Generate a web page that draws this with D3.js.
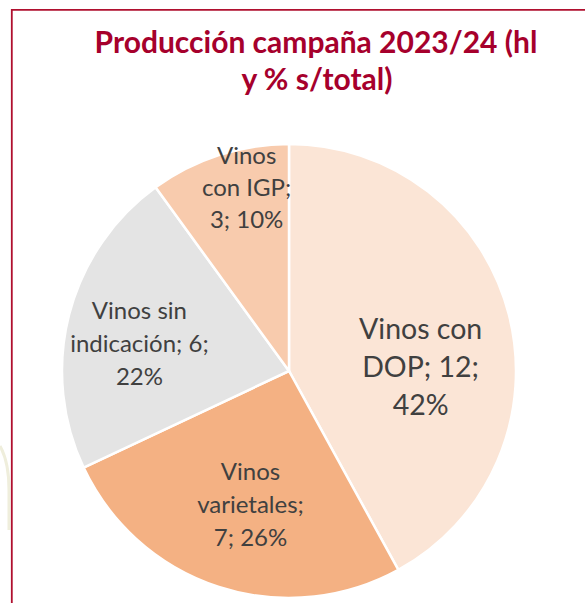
<!DOCTYPE html>
<html>
<head>
<meta charset="utf-8">
<script src="https://cdn.jsdelivr.net/npm/d3@7"></script>
<style>
  body { margin: 0; background: #fff; }
  svg { display: block; }
</style>
</head>
<body>
<script>
// data (hl in millions, share of total)
var categories = ["Vinos con DOP", "Vinos varietales", "Vinos sin indicación", "Vinos con IGP"];
var volumes = [12, 7, 6, 3];
var shares = [42, 26, 22, 10];
var colors = ["#FBE5D6", "#F4B183", "#E4E4E4", "#F8CBAD"];

// how Excel broke the labels into lines
var labelLines = [
  ["Vinos con", "DOP; 12;", "42%"],
  ["Vinos", "varietales;", "7; 26%"],
  ["Vinos sin", "indicación; 6;", "22%"],
  ["Vinos", "con IGP;", "3; 10%"]
];

var w = 585, h = 603;
var cx = 289, cy = 371, radius = 227;

// label placement: fraction of radius and angle shift (deg) from slice middle
var labelRadius = [0.58, 0.615, 0.67, 0.83];
var labelShift = [13, -2, -4, 5];
var labelSize = [28.5, 24, 24, 24];
var lineGap = [38, 33, 33, 32];

var svg = d3.select("body").append("svg")
  .attr("width", w)
  .attr("height", h);

// faint slide decoration left of the frame
svg.append("path")
  .attr("d", "M0,446Q9,462 9,490V530")
  .attr("fill", "none")
  .attr("stroke", "#EFEEDC")
  .attr("stroke-width", 3);

// frame
svg.append("path")
  .attr("d", "M11.8," + h + "V9.8H" + w)
  .attr("fill", "none")
  .attr("stroke", "#B0102F")
  .attr("stroke-width", 1.8);

// title
var title = svg.append("text")
  .attr("text-anchor", "middle")
  .attr("fill", "#A6002C")
  .style("font-family", "Lato, sans-serif")
  .style("font-weight", "bold")
  .style("font-size", "30px");
title.append("tspan").attr("x", 316).attr("y", 53).text("Producción campaña 2023/24 (hl");
title.append("tspan").attr("x", 317).attr("y", 90).text("y % s/total)");

var pie = d3.pie()
  .sort(null)
  .value(function(d){ return d; });

var arcs = pie(shares);

var arc = d3.arc()
  .innerRadius(0)
  .outerRadius(radius);

var g = svg.append("g")
  .attr("transform", "translate(" + cx + "," + cy + ")");

g.selectAll(".slice")
  .data(arcs)
  .enter()
  .append("path")
  .attr("class", "slice")
  .attr("d", arc)
  .attr("fill", function(d, i){ return colors[i]; })
  .attr("stroke", "#fff")
  .attr("stroke-width", 2.5);

var labels = g.selectAll(".lbl")
  .data(arcs)
  .enter()
  .append("text")
  .attr("class", "lbl")
  .attr("text-anchor", "middle")
  .attr("fill", "#404040")
  .style("font-family", "Lato, sans-serif")
  .style("font-size", function(d, i){ return labelSize[i] + "px"; })
  .attr("transform", function(d, i){
    var a = (d.startAngle + d.endAngle) / 2 + labelShift[i] * Math.PI / 180;
    var r = radius * labelRadius[i];
    return "translate(" + (r * Math.sin(a)) + "," + (-r * Math.cos(a)) + ")";
  });

labels.each(function(d, i){
  var t = d3.select(this);
  var lines = labelLines[i];
  lines.forEach(function(line, k){
    t.append("tspan")
      .attr("x", 0)
      .attr("y", (k - (lines.length - 1) / 2) * lineGap[i] + labelSize[i] * 0.34)
      .text(line);
  });
});
</script>
</body>
</html>
